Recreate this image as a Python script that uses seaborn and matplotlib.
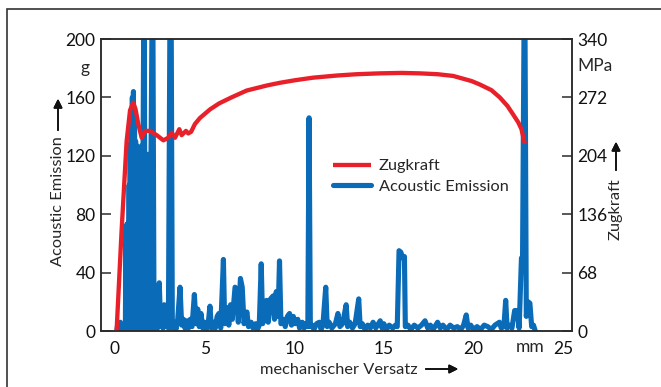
import matplotlib.pyplot as plt
import matplotlib.patches as patches
import seaborn as sns

# Zugkraft over mechanischer Versatz (mm -> MPa)
zug_x = [0.09, 0.37, 0.65, 0.84, 1.02, 1.15, 1.30, 1.49, 1.67, 1.95, 2.33, 2.70, 2.97,
         3.16, 3.35, 3.59, 3.72, 3.96, 4.09, 4.25, 4.46, 4.74, 5.30, 5.81, 6.50, 7.35,
         8.50, 9.20, 10.05, 11.06, 12.40, 13.50, 14.78, 16.00, 17.00, 18.00, 18.87,
         19.90, 20.36, 21.00, 21.47, 21.90, 22.20, 22.50, 22.68, 22.81, 22.87]
zug_mpa = [0, 117, 221, 257, 266, 258, 241, 225, 233, 233, 228, 222, 225,
           231, 225, 235, 228, 233, 230, 232, 241, 248, 258, 265, 272, 280,
           286, 289, 292, 295, 297.5, 299, 300, 300.5, 300, 299, 297,
           291, 287, 280.5, 272, 262, 252.6, 243, 235, 223, 218]

# Acoustic Emission (g)
ae_x = [0.10, 0.15, 0.20, 0.30, 0.35, 0.45, 0.52,
        0.58, 0.61, 0.64, 0.67, 0.70, 0.73, 0.76, 0.79, 0.82, 0.85, 0.88, 0.91,
        0.94, 0.97, 1.00, 1.03, 1.06, 1.09, 1.12, 1.15, 1.18, 1.21, 1.24, 1.27,
        1.30, 1.33, 1.36, 1.39, 1.42, 1.45, 1.48, 1.51, 1.54, 1.57, 1.60, 1.64,
        1.68, 1.71, 1.74, 1.77, 1.80, 1.83, 1.86, 1.89, 1.92, 1.95, 1.98, 2.01,
        2.06, 2.12, 2.18, 2.22, 2.26,
        2.32, 2.38, 2.47, 2.55, 2.62, 2.68, 2.75, 2.82, 2.90, 2.98, 3.06, 3.14,
        3.20, 3.30, 3.40, 3.50, 3.63, 3.72, 3.82, 3.90, 4.00, 4.10, 4.20, 4.30,
        4.43, 4.52, 4.62, 4.70, 4.80, 4.90, 5.00, 5.10, 5.20, 5.30, 5.38, 5.50,
        5.60, 5.70, 5.80, 5.90, 6.05, 6.12, 6.25, 6.35, 6.45, 6.55, 6.70, 6.80,
        6.88, 7.00, 7.10, 7.20, 7.36, 7.45, 7.60, 7.70, 7.85, 7.95, 8.05, 8.16,
        8.24, 8.35, 8.46, 8.55, 8.68, 8.82, 8.90, 9.00, 9.10, 9.18, 9.26, 9.40,
        9.50, 9.62, 9.74, 9.85, 9.95, 10.05, 10.20, 10.30, 10.45, 10.55, 10.65,
        10.76, 10.83, 10.90, 11.00, 11.10, 11.25, 11.40, 11.50, 11.60, 11.76,
        11.84, 11.95, 12.10, 12.30, 12.44, 12.55, 12.70, 12.90, 12.98, 13.10,
        13.25, 13.40, 13.60, 13.68, 13.80, 13.95, 14.10, 14.25, 14.40, 14.55,
        14.70, 14.80, 14.90, 15.00, 15.15, 15.30, 15.50, 15.65, 15.75, 15.85,
        15.95, 16.05, 16.15, 16.20, 16.35, 16.50, 16.70, 16.90, 17.10, 17.30,
        17.45, 17.60, 17.75, 18.00, 18.15, 18.30, 18.50, 18.70, 18.90, 19.10,
        19.30, 19.45, 19.60, 19.70, 19.85, 20.00, 20.20, 20.40, 20.60, 20.80,
        21.00, 21.20, 21.45, 21.55, 21.70, 21.80, 21.88, 22.00, 22.15, 22.30,
        22.45, 22.55, 22.68, 22.74, 22.82, 22.88, 22.95, 23.05, 23.15, 23.25,
        23.35, 23.45]
ae_g = [0, 4, 0, 6, 1, 3, 0,
        0, 72, 0, 73, 0, 74, 0, 100, 0, 128, 0, 150,
        0, 160, 0, 164, 0, 145, 0, 130, 0, 127, 0, 126,
        0, 124, 0, 126, 0, 125, 0, 127, 0, 130, 200, 200,
        0, 118, 0, 120, 0, 121, 0, 120, 0, 119, 0, 120,
        200, 200, 0, 20, 0,
        15, 2, 33, 3, 15, 2, 18, 3, 8, 2, 200, 200,
        2, 6, 1, 8, 30, 4, 8, 2, 7, 2, 8, 3,
        25, 5, 15, 3, 12, 2, 6, 1, 5, 17, 2, 6,
        2, 10, 12, 2, 49, 5, 16, 4, 18, 8, 30, 28,
        6, 36, 30, 5, 13, 3, 6, 2, 5, 1, 4, 46,
        5, 12, 21, 6, 22, 24, 8, 27, 10, 48, 5, 8,
        3, 10, 12, 4, 10, 5, 8, 2, 6, 2, 5,
        3, 146, 3, 4, 1, 5, 6, 1, 4, 30,
        3, 6, 2, 5, 12, 3, 5, 18, 3, 6,
        2, 5, 22, 3, 5, 1, 4, 2, 6, 2,
        5, 7, 2, 5, 1, 4, 2, 4, 3, 55,
        54, 50, 51, 3, 4, 1, 4, 2, 4, 7,
        2, 4, 1, 6, 2, 4, 1, 4, 2, 3,
        1, 4, 11, 2, 4, 1, 3, 1, 4, 3,
        1, 4, 6, 2, 3, 21, 2, 4, 2, 14,
        14, 2, 50, 49, 200, 200, 10, 20, 19, 3,
        4, 0]

x_ticks = [0, 5, 10, 15, 20, 25]
ae_ticks = [0, 40, 80, 120, 160, 200]
zug_ticks = [0, 68, 136, 204, 272, 340]

sns.set_style("white")
plt.rcParams["font.family"] = ["Lato", "DejaVu Sans"]
plt.rcParams["path.simplify"] = False

red = "#e8202a"
blue = "#0a6cb8"
dark = "#2b2b2b"
fs = 12.5
lfs = 11.8

fig = plt.figure(figsize=(6.61, 3.87), dpi=100)
ax = fig.add_axes([101 / 661, 56 / 387, 471 / 661, 292 / 387])
ax2 = ax.twinx()

sns.lineplot(x=ae_x, y=ae_g, ax=ax, color=blue, lw=3.7, sort=False,
             estimator=None, label="Acoustic Emission", legend=False,
             solid_joinstyle="round", solid_capstyle="round")
sns.lineplot(x=zug_x, y=zug_mpa, ax=ax2, color=red, lw=3.1, sort=False,
             estimator=None, label="Zugkraft", legend=False,
             solid_joinstyle="round", solid_capstyle="butt")

ax.set_xlim(-0.78, 25.5)
ax.set_ylim(0, 200)
ax2.set_ylim(0, 340)
ax.set_xticks(x_ticks)
ax.set_yticks(ae_ticks)
ax2.set_yticks(zug_ticks)
ax.set_xlabel("")
ax.set_ylabel("")
ax2.set_ylabel("")

for a in (ax, ax2):
    for s in a.spines.values():
        s.set_color(dark)
        s.set_linewidth(1.1)
ax.tick_params(axis="both", direction="in", length=7, width=1.1, color=dark,
               labelsize=fs, labelcolor="#111")
ax.tick_params(axis="x", pad=7)
ax.tick_params(axis="y", pad=4)
ax2.tick_params(axis="y", direction="in", length=7, width=1.1, color=dark,
                labelsize=fs, labelcolor="#111", pad=4)

# unit labels
fig.text(85 / 661, 1 - 68 / 387, "g", ha="center", va="center", fontsize=fs)
fig.text(577 / 661, 1 - 66 / 387, "MPa", ha="left", va="center", fontsize=fs)
fig.text(530 / 661, 1 - 347 / 387, "mm", ha="center", va="center", fontsize=fs)

# axis titles with arrows
arrow = dict(arrowstyle="-|>", lw=1.2, color="#111", mutation_scale=13)
fig.text(58 / 661, 1 - 201 / 387, "Acoustic Emission", rotation=90,
         ha="center", va="center", fontsize=lfs)
fig.add_artist(plt.annotate("", xy=(58 / 661, 1 - 96 / 387), xytext=(58 / 661, 1 - 133 / 387),
                            xycoords="figure fraction", arrowprops=arrow))
fig.text(616 / 661, 1 - 209 / 387, "Zugkraft", rotation=90,
         ha="center", va="center", fontsize=lfs)
fig.add_artist(plt.annotate("", xy=(616 / 661, 1 - 139 / 387), xytext=(616 / 661, 1 - 173 / 387),
                            xycoords="figure fraction", arrowprops=arrow))
fig.text(339 / 661, 1 - 370 / 387, "mechanischer Versatz", ha="center", va="center",
         fontsize=lfs)
fig.add_artist(plt.annotate("", xy=(461 / 661, 1 - 369 / 387), xytext=(423 / 661, 1 - 369 / 387),
                            xycoords="figure fraction", arrowprops=arrow))

# legend
handles = ax2.get_lines()[:1] + ax.get_lines()[:1]
fig.legend(handles, ["Zugkraft", "Acoustic Emission"], loc="upper left",
           bbox_to_anchor=(333 / 661, 1 - 159 / 387), frameon=False, fontsize=lfs,
           handlelength=2.3, handletextpad=0.5, labelspacing=0.35,
           borderpad=0, borderaxespad=0)

# outer frame
fig.add_artist(patches.Rectangle((7 / 661, -0.5), 2, 0.5 + 1 - 9 / 387, fill=False,
                                 edgecolor="#333", lw=1.2, transform=fig.transFigure))

fig.savefig("out.png", dpi=100)
